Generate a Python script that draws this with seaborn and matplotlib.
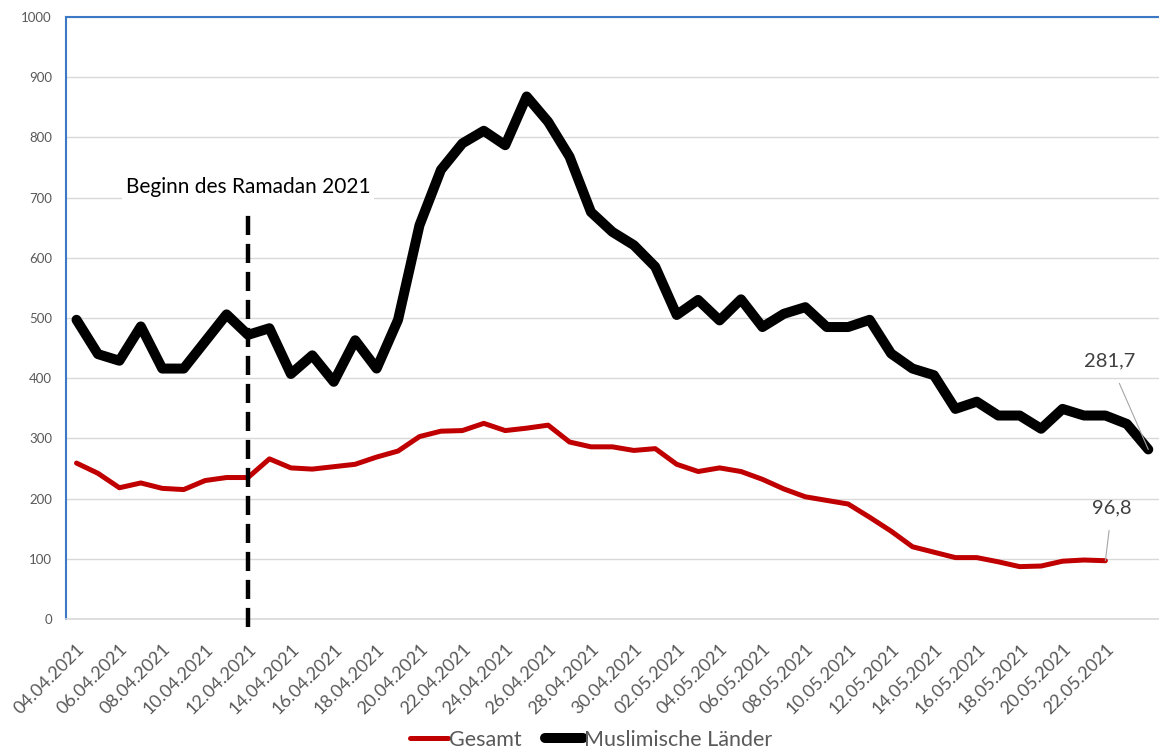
import numpy as np
import pandas as pd
import seaborn as sns
import matplotlib.pyplot as plt

# daily categories 04.04.2021 .. 24.05.2021
dates = pd.date_range("2021-04-04", "2021-05-24", freq="D").strftime("%d.%m.%Y").tolist()

gesamt = [259, 242, 218, 226, 217, 215, 230, 235, 235, 266, 251, 249, 253, 257, 269, 279,
          303, 312, 313, 325, 313, 317, 322, 294, 286, 286, 280, 283, 257, 245, 251, 245,
          232, 216, 203, 197, 191, 169, 146, 120, 111, 102, 102, 95, 87, 88, 96, 98, 96.8]
muslim = [497, 440, 429, 486, 416, 416, 461, 506, 472, 483, 407, 438, 394, 463, 416, 497,
          654, 746, 790, 811, 787, 868, 826, 768, 676, 643, 621, 585, 505, 530, 496, 531,
          485, 507, 518, 485, 485, 497, 441, 416, 405, 349, 361, 338, 338, 316, 349, 338,
          338, 324, 281.7]

ramadan_idx = 8
ramadan_text = "Beginn des Ramadan 2021"

df_g = pd.DataFrame({"idx": range(len(gesamt)), "wert": gesamt})
df_m = pd.DataFrame({"idx": range(len(muslim)), "wert": muslim})

sns.set_style("white")
plt.rcParams['font.family'] = ['Lato', 'DejaVu Sans']

W, H = 1159, 749
fig = plt.figure(figsize=(W / 100, H / 100), dpi=100)
left, right, top, bottom = 65.8, 1159, 17, 619
ax = fig.add_axes([left / W, 1 - bottom / H, (right - left) / W, (bottom - top) / H])

grey = "#595959"
sns.lineplot(data=df_g, x="idx", y="wert", ax=ax, color="#C00000", linewidth=3.6,
             label="Gesamt", solid_capstyle="round", solid_joinstyle="round")
sns.lineplot(data=df_m, x="idx", y="wert", ax=ax, color="black", linewidth=7.2,
             label="Muslimische Länder", solid_capstyle="round", solid_joinstyle="round")

# Ramadan marker
ax.plot([ramadan_idx, ramadan_idx], [-14, 680], color="black", lw=3.2,
        dashes=(4.3, 2.0), clip_on=False, zorder=5)
ax.text(ramadan_idx, 718, ramadan_text, ha="center", va="center", fontsize=15,
        color="black", bbox=dict(facecolor="white", edgecolor="none", pad=3), zorder=6)

# data labels
ax.annotate("281,7", xy=(50, muslim[-1]), xytext=(48.2, 428), ha="center", va="center",
            fontsize=14.5, color="#404040",
            arrowprops=dict(arrowstyle="-", color="#a6a6a6", lw=0.8, shrinkA=8, shrinkB=0))
ax.annotate("96,8", xy=(48, gesamt[-1]), xytext=(48.3, 185), ha="center", va="center",
            fontsize=14.5, color="#404040",
            arrowprops=dict(arrowstyle="-", color="#a6a6a6", lw=0.8, shrinkA=8, shrinkB=0))

ax.set_ylim(0, 1000)
ax.set_xlim(-0.5, -0.5 + (right - left) / 21.5)
ax.set_yticks(np.arange(0, 1001, 100))
ax.tick_params(axis="y", length=0, pad=10, labelsize=9.5, labelcolor=grey)
ax.grid(axis="y", color="#d9d9d9", lw=1)
ax.set_axisbelow(True)

lab_pos = list(range(0, 49, 2))
ax.set_xticks(lab_pos)
ax.set_xticklabels([dates[i] for i in lab_pos], rotation=45, ha="right",
                   rotation_mode="anchor", fontsize=13, color=grey)
ax.set_xticks(np.arange(-0.5, len(dates), 1), minor=True)
ax.tick_params(axis="x", which="major", length=0, pad=16)
ax.tick_params(axis="x", which="minor", length=6, color="#d9d9d9", width=1, direction="out")
ax.set_xlabel("")
ax.set_ylabel("")

for s in ["left", "top"]:
    ax.spines[s].set_color("#3C78C3")
    ax.spines[s].set_linewidth(1.5)
ax.spines["bottom"].set_color("#d9d9d9")
ax.spines["bottom"].set_linewidth(1.2)
ax.spines["right"].set_visible(False)

handles, labels = ax.get_legend_handles_labels()
ax.legend_.remove()
leg = fig.legend(handles, labels, loc="lower center", bbox_to_anchor=(591 / W, -0.027),
                 ncol=2, frameon=False, fontsize=15.5, handlelength=1.75, handletextpad=0.05,
                 columnspacing=1.1)
for t in leg.get_texts():
    t.set_color(grey)

fig.savefig("out.png", dpi=100)
